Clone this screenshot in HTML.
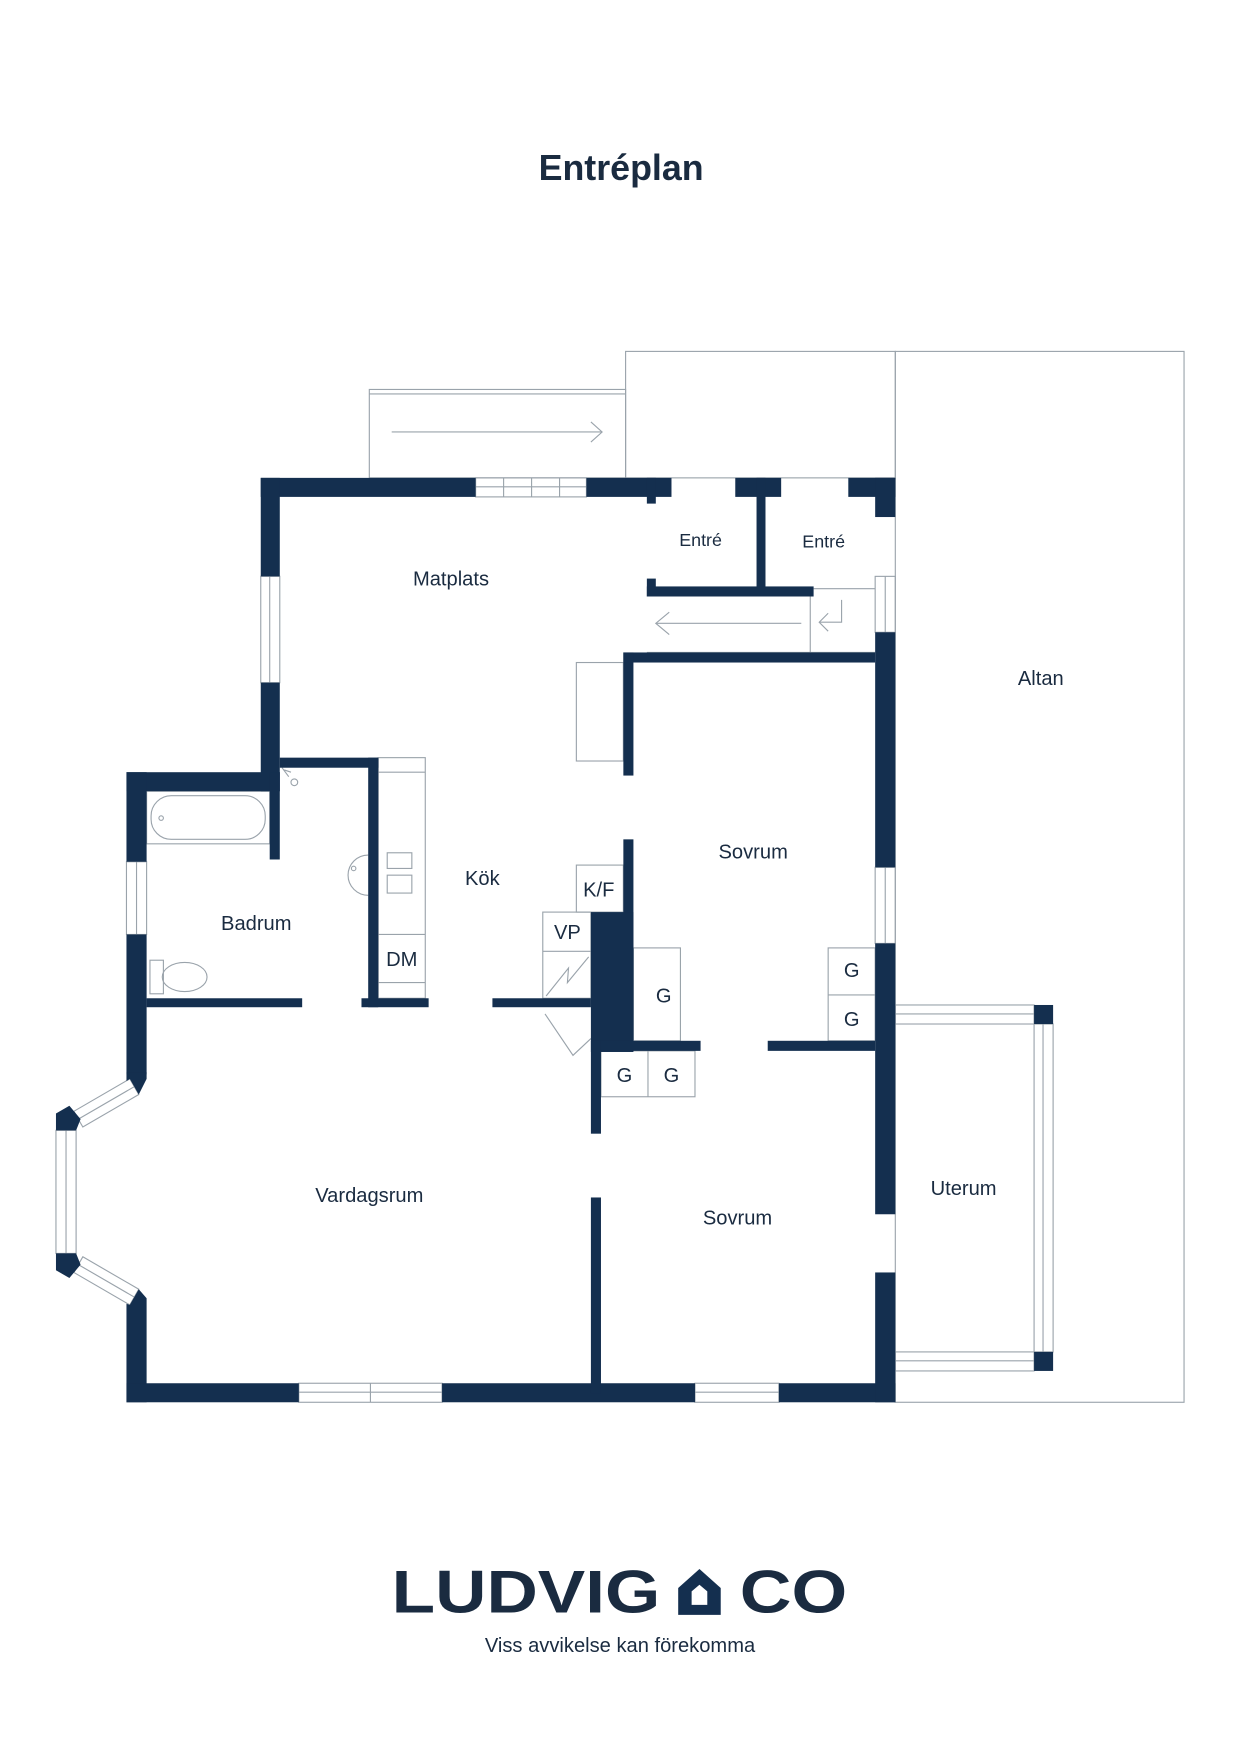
<!DOCTYPE html>
<html><head><meta charset="utf-8"><style>
html,body{margin:0;padding:0;background:#fff;width:1240px;height:1754px;overflow:hidden}
svg{display:block}
text{font-family:"Liberation Sans",sans-serif;fill:#1a2b40}
</style></head><body>
<svg width="1240" height="1754" viewBox="0 0 1108 1567" preserveAspectRatio="xMinYMin meet" xmlns="http://www.w3.org/2000/svg">
<text x="555" y="161" text-anchor="middle" font-size="32" font-weight="bold" fill="#14304f">Entréplan</text>

<g fill="none" stroke="#9aa3ab" stroke-width="1">
<rect x="800" y="314" width="258" height="939"/>
<rect x="559" y="314" width="241" height="113"/>
<rect x="330" y="348" width="229" height="79"/>
<line x1="330" y1="352" x2="559" y2="352"/>
<line x1="350" y1="386" x2="538" y2="386"/><polyline points="528,377 538,386 528,395"/>
<line x1="578" y1="583" x2="782" y2="583"/>
<line x1="724" y1="533" x2="724" y2="583"/>
<line x1="586" y1="557" x2="716" y2="557"/><polyline points="598,547 586,557 598,567"/>
<polyline points="752,536 752,556 732,556"/><polyline points="740,548 732,556 740,564"/>
<line x1="727" y1="526" x2="782" y2="526"/>
<rect x="515" y="592" width="42" height="88"/>
<rect x="338" y="677" width="42" height="215"/>
<line x1="338" y1="690" x2="380" y2="690"/>
<line x1="338" y1="835" x2="380" y2="835"/>
<line x1="338" y1="878" x2="380" y2="878"/>
<rect x="346" y="762" width="22" height="14"/><rect x="346" y="782" width="22" height="16"/>
<path d="M329,764 a14,14 0 1 0 0,36"/><circle cx="316" cy="776" r="2"/>
<rect x="131" y="707" width="110" height="47"/>
<rect x="135" y="711" width="102" height="39" rx="18"/>
<circle cx="144" cy="731" r="2"/>
<rect x="134" y="858" width="12" height="30"/><ellipse cx="165" cy="873" rx="20" ry="13"/>
<path d="M252,686 l6,8 m-4,-6 l6,2"/><circle cx="263" cy="699" r="3"/>
<rect x="515" y="773" width="42" height="42"/>
<rect x="485" y="815" width="43" height="77"/>
<line x1="485" y1="850" x2="528" y2="850"/>
<polyline points="488,890 508,865 507,878 526,855"/>
<polyline points="487,906 512,943 528,928"/>
<rect x="566" y="847" width="42" height="83"/>
<rect x="537" y="939" width="84" height="41"/><line x1="579" y1="939" x2="579" y2="980"/>
<rect x="740" y="847" width="42" height="83"/><line x1="740" y1="889" x2="782" y2="889"/>
</g>

<g fill="none" stroke="#9aa3ab" stroke-width="1">
<rect x="425" y="427" width="99" height="17"/><line x1="425" y1="435" x2="524" y2="435"/>
<line x1="450" y1="427" x2="450" y2="444"/><line x1="475" y1="427" x2="475" y2="444"/><line x1="500" y1="427" x2="500" y2="444"/>
<rect x="233" y="515" width="17" height="95"/><line x1="241" y1="515" x2="241" y2="610"/>
<rect x="113" y="770" width="18" height="65"/><line x1="122" y1="770" x2="122" y2="835"/>
<rect x="50" y="1010" width="18" height="110"/><line x1="59" y1="1010" x2="59" y2="1120"/>
<rect x="267" y="1236" width="128" height="17"/><line x1="267" y1="1244" x2="395" y2="1244"/><line x1="331" y1="1236" x2="331" y2="1253"/>
<rect x="621" y="1236" width="75" height="17"/><line x1="621" y1="1244" x2="696" y2="1244"/>
<rect x="782" y="515" width="18" height="50"/><line x1="791" y1="515" x2="791" y2="565"/>
<rect x="782" y="775" width="18" height="68"/><line x1="791" y1="775" x2="791" y2="843"/>
<rect x="800" y="898" width="124" height="17"/><line x1="800" y1="906" x2="924" y2="906"/>
<rect x="924" y="915" width="17" height="293"/><line x1="932" y1="915" x2="932" y2="1208"/>
<rect x="800" y="1208" width="124" height="17"/><line x1="800" y1="1216" x2="924" y2="1216"/>
<polygon points="66,993 116,964 124,978 74,1007"/><line x1="70" y1="1000" x2="120" y2="971"/>
<polygon points="74,1123 124,1152 116,1166 66,1137"/><line x1="70" y1="1130" x2="120" y2="1159"/>
</g>

<g fill="#142f4f">
<rect x="233" y="427" width="192" height="17"/>
<rect x="524" y="427" width="76" height="17"/>
<rect x="578" y="427" width="8" height="23"/>
<rect x="657" y="427" width="41" height="17"/>
<rect x="676" y="427" width="8" height="106"/>
<rect x="758" y="427" width="42" height="17"/>
<rect x="782" y="427" width="18" height="35"/>
<rect x="233" y="427" width="17" height="88"/>
<rect x="233" y="610" width="17" height="97"/>
<rect x="113" y="690" width="137" height="17"/>
<rect x="241" y="690" width="9" height="78"/>
<rect x="250" y="677" width="88" height="9"/>
<rect x="329" y="677" width="9" height="223"/>
<rect x="113" y="690" width="18" height="80"/>
<rect x="113" y="835" width="18" height="125"/>
<polygon points="113,958 131,958 131,964 124,978 116,964 113,966"/>
<polygon points="50,995 62,988 72,1000 68,1010 50,1010"/>
<polygon points="50,1120 68,1120 72,1130 62,1142 50,1135"/>
<polygon points="113,1165 116,1166 124,1152 131,1160 131,1253 113,1253"/>
<rect x="113" y="1236" width="154" height="17"/>
<rect x="395" y="1236" width="226" height="17"/>
<rect x="696" y="1236" width="104" height="17"/>
<rect x="131" y="892" width="139" height="8"/>
<rect x="323" y="892" width="60" height="8"/>
<rect x="440" y="892" width="88" height="8"/>
<rect x="578" y="517" width="8" height="16"/>
<rect x="578" y="524" width="149" height="9"/>
<rect x="557" y="583" width="225" height="9"/>
<rect x="557" y="583" width="9" height="110"/>
<rect x="782" y="565" width="18" height="210"/>
<rect x="782" y="843" width="18" height="242"/>
<rect x="782" y="1137" width="18" height="116"/>
<rect x="557" y="750" width="9" height="189"/>
<rect x="528" y="815" width="38" height="125"/>
<rect x="528" y="930" width="9" height="83"/>
<rect x="537" y="930" width="89" height="9"/>
<rect x="686" y="930" width="96" height="9"/>
<rect x="528" y="1070" width="9" height="175"/>
<rect x="924" y="898" width="17" height="17"/>
<rect x="924" y="1208" width="17" height="17"/>
</g>

<g font-size="18" text-anchor="middle">
<text x="403" y="523">Matplats</text>
<text x="626" y="488" font-size="16">Entré</text>
<text x="736" y="489" font-size="16">Entré</text>
<text x="930" y="612">Altan</text>
<text x="673" y="767">Sovrum</text>
<text x="431" y="791">Kök</text>
<text x="229" y="831">Badrum</text>
<text x="535" y="801">K/F</text>
<text x="507" y="839">VP</text>
<text x="359" y="863">DM</text>
<text x="593" y="896">G</text>
<text x="761" y="873">G</text>
<text x="761" y="917">G</text>
<text x="558" y="967">G</text>
<text x="600" y="967">G</text>
<text x="861" y="1068">Uterum</text>
<text x="330" y="1074">Vardagsrum</text>
<text x="659" y="1094">Sovrum</text>
</g>

<text x="350" y="1441" font-size="54" font-weight="bold" fill="#142f4f" textLength="240" lengthAdjust="spacingAndGlyphs">LUDVIG</text>
<path d="M606,1443 V1419 L625,1402 L644,1419 V1443 Z M618,1434 H632 V1422 L625,1416 L618,1422 Z" fill="#142f4f" fill-rule="evenodd"/>
<text x="661" y="1441" font-size="54" font-weight="bold" fill="#142f4f" textLength="96" lengthAdjust="spacingAndGlyphs">CO</text>
<text x="554" y="1476" font-size="18" text-anchor="middle">Viss avvikelse kan förekomma</text>
</svg>
</body></html>
